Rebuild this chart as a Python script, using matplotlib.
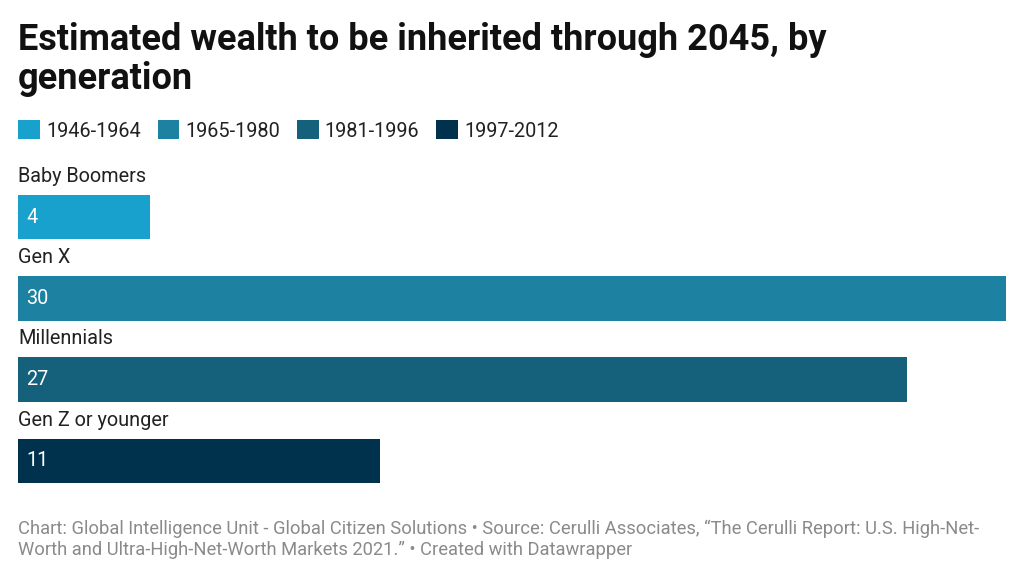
import matplotlib
matplotlib.use("Agg")
import matplotlib.pyplot as plt
from matplotlib.patches import Patch

plt.rcParams["font.family"] = ["Roboto", "DejaVu Sans"]

# ---- data ----------------------------------------------------------
generations = ["Baby Boomers", "Gen X", "Millennials", "Gen Z or younger"]
birth_years = ["1946-1964", "1965-1980", "1981-1996", "1997-2012"]
wealth_trillions = [4, 30, 27, 11]
colors = ["#18a1cd", "#1d81a2", "#15607a", "#00324e"]

title = "Estimated wealth to be inherited through 2045, by\ngeneration"
footer = ("Chart: Global Intelligence Unit - Global Citizen Solutions \u2022 Source: Cerulli Associates, "
          "\u201cThe Cerulli Report: U.S. High-Net-\nWorth and Ultra-High-Net-Worth Markets 2021.\u201d "
          "\u2022 Created with Datawrapper")

W, H = 1024, 576
fig = plt.figure(figsize=(W / 100, H / 100), dpi=100)

# axes: x from 18px to 1006px, rows every 81px, first row centre at 217px
top_px, bot_px = 176.5, 501.5
ax = fig.add_axes([18 / W, 1 - bot_px / H, 988 / W, (bot_px - top_px) / H])
ax.set_xlim(0, max(wealth_trillions))
ax.set_ylim(len(generations) - 0.5, -0.5)
ax.axis("off")

ypos = list(range(len(generations)))
ax.barh(ypos, wealth_trillions, height=0.545, color=colors, linewidth=0)

for y, name, val in zip(ypos, generations, wealth_trillions):
    ax.text(0, y - 0.5, name, ha="left", va="center", fontsize=14.3,
            color="#222222", clip_on=False)
    ax.annotate(str(val), (0, y), xytext=(6, 0), textcoords="offset points",
                ha="left", va="center", fontsize=14.3, color="white")

handles = [Patch(facecolor=c, edgecolor="none") for c in colors]
fig.legend(handles, birth_years, loc="upper left", bbox_to_anchor=(0.010, 0.805),
           ncol=4, frameon=False, fontsize=14.3, handlelength=1.1, handleheight=1.1,
           handletextpad=0.3, columnspacing=0.85, borderaxespad=0, labelcolor="#222222")

fig.text(18 / W, 1 - 22 / H, title, ha="left", va="top", fontsize=26,
         fontweight="bold", color="#111111", linespacing=1.1)
fig.text(18 / W, 1 - 520 / H, footer, ha="left", va="top", fontsize=13.2,
         color="#8a8a8a", linespacing=1.2)

fig.savefig("out.png", dpi=100)
